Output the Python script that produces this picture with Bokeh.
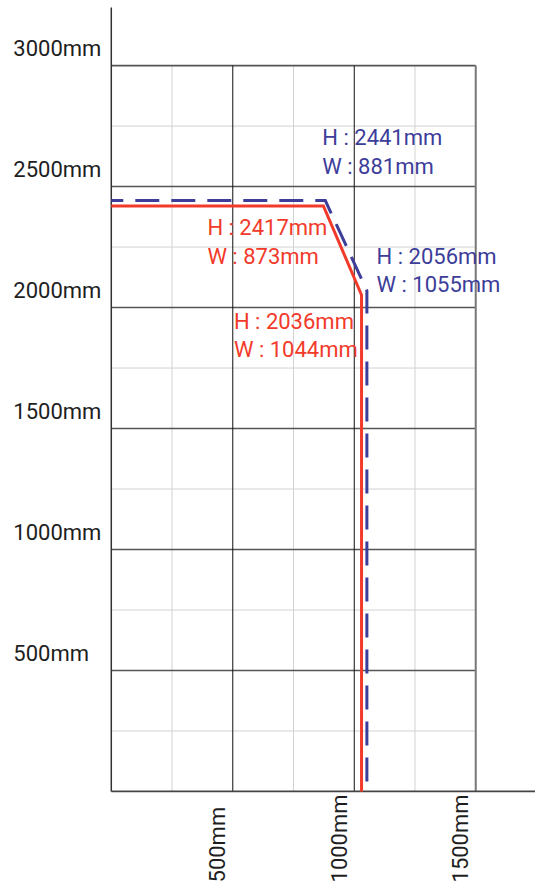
import math
from bokeh.plotting import figure
from bokeh.models import Range1d, ColumnDataSource
from bokeh.embed import file_html
from bokeh.resources import INLINE
from bokeh.core.properties import value

# ---- data ----
x_ticks = [500, 1000, 1500]
x_tick_labels = ["500mm", "1000mm", "1500mm"]
x_minor = [250, 750, 1250]
y_ticks = [500, 1000, 1500, 2000, 2500, 3000]
y_tick_labels = ["500mm", "1000mm", "1500mm", "2000mm", "2500mm", "3000mm"]
y_minor = [250, 750, 1250, 1750, 2250, 2750]

red_w = [0, 873, 1030, 1030]
red_h = [2420, 2420, 2052, 0]
blue_w = [0, 881, 1052, 1052]
blue_h = [2442, 2442, 2070, 0]

blue_label_w = [881, 1055]
blue_label_h = [2441, 2056]
red_label_w = [873, 1044]
red_label_h = [2417, 2036]

# ---- style ----
RED = "#f23a2a"
BLUE = "#3d3d9a"
FONT = value("Roboto")

X_MIN, X_MAX = -456, 1746
Y_MIN, Y_MAX = -401, 3269
GX_END = x_ticks[-1]
GY_END = y_ticks[-1]
SHIFT = -9  # baseline correction

p = figure(width=535, height=888, output_backend="svg", toolbar_location=None,
           x_range=Range1d(X_MIN, X_MAX), y_range=Range1d(Y_MIN, Y_MAX),
           x_axis_location=None, y_axis_location=None, min_border=0)
p.outline_line_color = None
p.xgrid.visible = False
p.ygrid.visible = False
p.background_fill_color = "white"
p.border_fill_color = "white"

# minor grid
p.segment(x0=x_minor, y0=[0] * len(x_minor), x1=x_minor, y1=[GY_END] * len(x_minor),
          line_color="#d2d2d2", line_width=1)
p.segment(x0=[0] * len(y_minor), y0=y_minor, x1=[GX_END] * len(y_minor), y1=y_minor,
          line_color="#d2d2d2", line_width=1)
# major grid
p.segment(x0=[0] * len(y_ticks), y0=y_ticks, x1=[GX_END] * len(y_ticks), y1=y_ticks,
          line_color="#555555", line_width=1.6)
inner = x_ticks[:-1]
p.segment(x0=inner, y0=[0] * len(inner), x1=inner, y1=[GY_END] * len(inner),
          line_color="#111111", line_width=1)
p.segment(x0=[GX_END], y0=[0], x1=[GX_END], y1=[GY_END],
          line_color="#777777", line_width=2)
# axis lines
p.segment(x0=[0], y0=[0], x1=[0], y1=[3240], line_color="#333333", line_width=1.5)
p.segment(x0=[0], y0=[0], x1=[X_MAX], y1=[0], line_color="#444444", line_width=1.8)

# data lines
p.line(red_w, red_h, line_color=RED, line_width=3, line_join="miter")
p.line(blue_w, blue_h, line_color=BLUE, line_width=3, line_dash="24 12",
       line_dash_offset=12, line_join="miter")

# tick labels
p.text(x=[0] * len(y_ticks), y=y_ticks, text=y_tick_labels, x_offset=-98, y_offset=-8 + SHIFT,
       text_align="left", text_baseline="alphabetic", text_font=FONT,
       text_font_size="22px", text_color="#1e1e1e")
p.text(x=x_ticks, y=[0] * len(x_ticks), text=x_tick_labels, angle=math.pi / 2,
       x_offset=-6 + SHIFT, y_offset=91, text_align="left", text_baseline="alphabetic",
       text_font=FONT, text_font_size="22px", text_color="#1e1e1e")

# annotations
def annotate(ws, hs, color, offsets):
    xs, ys, txt, xo, yo = [], [], [], [], []
    for (w, h), (dx, dyh, dyw) in zip(zip(ws, hs), offsets):
        xs += [w, w]
        ys += [h, h]
        txt += [f"H : {h}mm", f"W : {w}mm"]
        xo += [dx, dx]
        yo += [dyh + SHIFT, dyw + SHIFT]
    src = ColumnDataSource(dict(x=xs, y=ys, text=txt, xo=xo, yo=yo))
    p.text(x="x", y="y", text="text", x_offset="xo", y_offset="yo", source=src,
           text_align="left", text_baseline="alphabetic", text_font=FONT,
           text_font_size="22px", text_color=color)

annotate(blue_label_w, blue_label_h, BLUE, [(-3, -54, -25), (9, -28, 0)])
annotate(red_label_w, red_label_h, RED, [(-116, 30, 59), (-131, 32, 60)])

open("out.html", "w").write(file_html(p, INLINE))
